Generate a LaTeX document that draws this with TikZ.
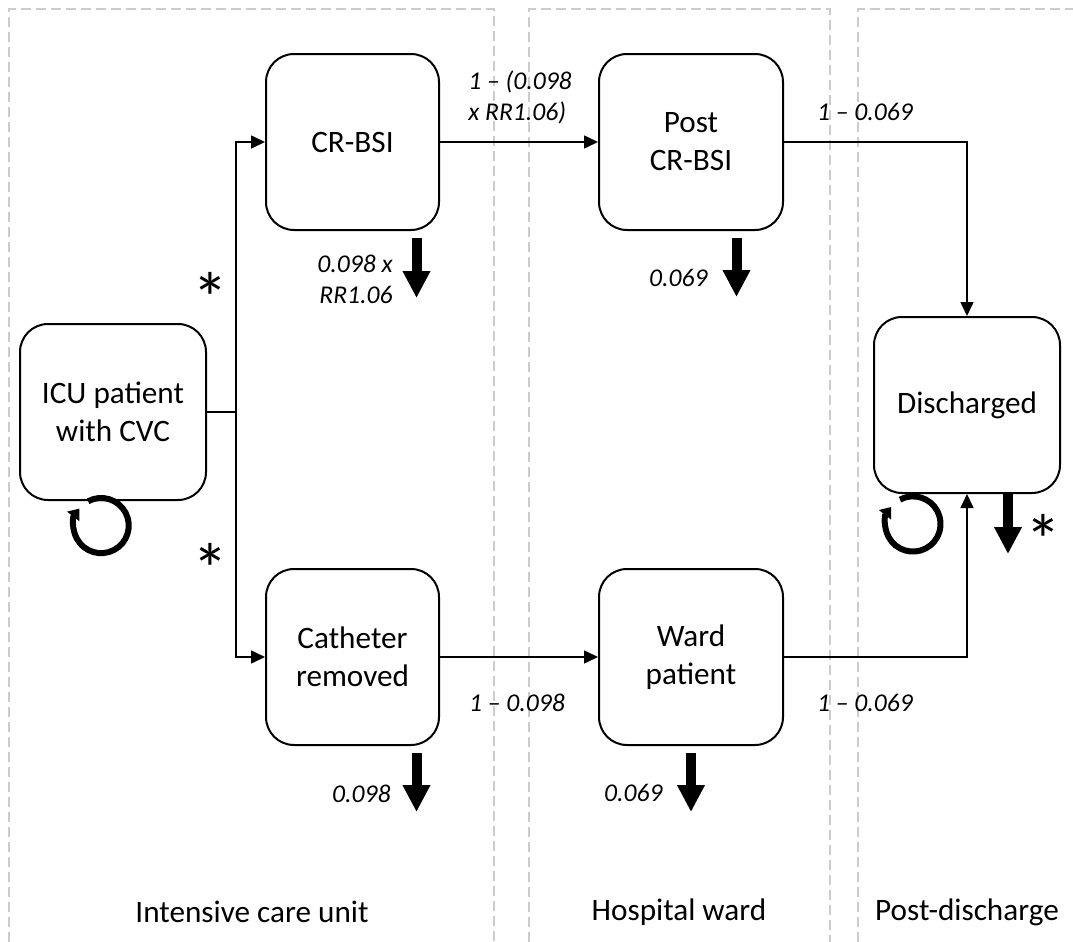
\documentclass[tikz,border=0pt]{standalone}
\usepackage{fontspec}
\setmainfont{Carlito}
\usetikzlibrary{arrows.meta}

\begin{document}
\begin{tikzpicture}[x=0.5pt,y=-0.5pt]
\tikzstyle{every node}+=[inner sep=0pt]
\tikzstyle{state}=[draw=black,line width=1pt,rounded corners=14pt,minimum height=88pt,align=center,font=\fontsize{15.6}{19}\selectfont]
\tikzstyle{zone}=[font=\fontsize{15.6}{19}\selectfont]
\tikzstyle{prob}=[font=\fontsize{12.8}{15.5}\selectfont\itshape]
\tikzstyle{star}=[font=\fontsize{36}{40}\selectfont]
\tikzstyle{link}=[line width=0.8pt,-{Triangle[length=7pt,width=6.5pt]}]
\tikzstyle{drop}=[line width=5pt,-{Triangle[length=13.5pt,width=13pt]}]
\tikzstyle{stay}=[line width=3pt,-{Triangle[length=5pt,width=7.5pt]}]
\tikzstyle{panel}=[draw=gray!40,line width=0.6pt,dash pattern=on 5pt off 2.5pt]
\useasboundingbox (0,0) rectangle (1073,942);
\draw[panel] (9,942) |- (494,9) -- (494,942);
\draw[panel] (529,942) |- (830,9) -- (830,942);
\draw[panel] (858,942) |- (1073,9);
\node[state,minimum width=93pt] (icu) at (113,412) {ICU patient\\with CVC};
\node[state,minimum width=86.5pt] (bsi) at (352.5,142) {CR-BSI};
\node[state,minimum width=92pt] (postbsi) at (691,142) {Post\\CR-BSI};
\node[state,minimum width=86.5pt] (removed) at (352.5,657) {Catheter\\removed};
\node[state,minimum width=92pt] (ward) at (691,657) {Ward\\patient};
\node[state,minimum width=93pt] (disch) at (967,405) {Discharged};
\coordinate (split) at (236,412);
\draw[line width=0.8pt] (icu.east) -- (split);
\draw[link] (split) |- (bsi.west);
\draw[link] (split) |- (removed.west);
\draw[link] (bsi.east) -- (postbsi.west);
\draw[link] (postbsi.east) -| (disch.north);
\draw[link] (removed.east) -- (ward.west);
\draw[link] (ward.east) -| (disch.south);
\node[prob,align=left] (p1) at (520,97) {1 -- (0.098\\x RR1.06)};
\node[prob] (p2) at (865,112) {1 -- 0.069};
\node[prob] (p3) at (517,703) {1 -- 0.098};
\node[prob] (p4) at (865,703) {1 -- 0.069};
\draw[drop] ([xshift=32pt,yshift=-3.5pt]bsi.south) -- ++(0,60);
\draw[drop] ([xshift=22.75pt,yshift=-3.5pt]postbsi.south) -- ++(0,59);
\draw[drop] ([xshift=32pt,yshift=-3.5pt]removed.south) -- ++(0,59);
\draw[drop] ([yshift=-3.5pt]ward.south) -- ++(0,59);
\draw[drop] ([xshift=20.5pt]disch.south) -- ++(0,60);
\node[prob,align=right,anchor=east] (d1) at (393,279) {0.098 x\\RR1.06};
\node[prob,anchor=east] (d2) at (708,278) {0.069};
\node[prob,anchor=east] (d3) at (391,794) {0.098};
\node[prob,anchor=east] (d4) at (663,793) {0.069};
\draw[stay] ([shift={(-12.4pt,-0.1pt)}]icu.south) arc[start angle=118,end angle=-218,radius=13.8pt];
\draw[stay] ([shift={(-33.5pt,-2.8pt)}]disch.south) arc[start angle=118,end angle=-218,radius=13.8pt];
\node[star] (s1) at (210,298) {*};
\node[star] (s2) at (210,569) {*};
\node[star] (s3) at (1043,540) {*};
\node[zone] (z1) at (252,912) {Intensive care unit};
\node[zone] (z2) at (679,912) {Hospital ward};
\node[zone] (z3) at (967,912) {Post-discharge};
\end{tikzpicture}
\end{document}
